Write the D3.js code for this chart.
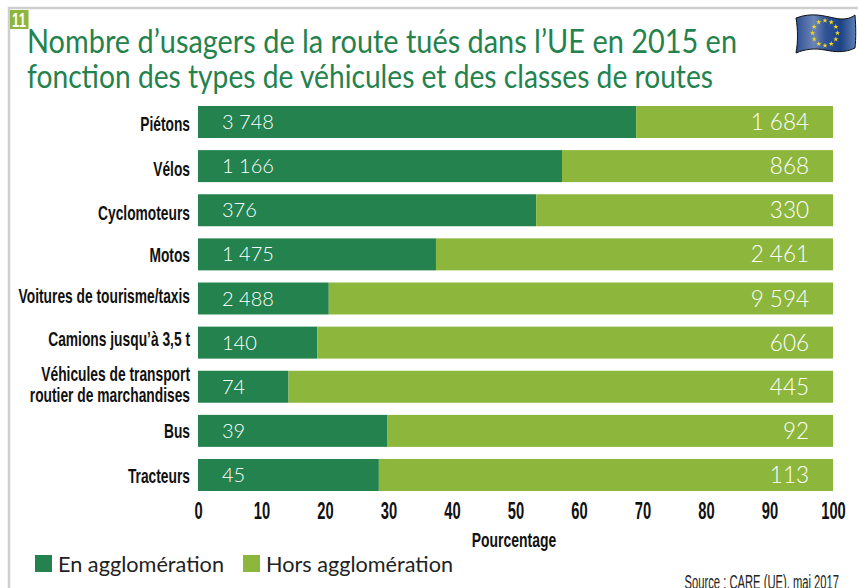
<!DOCTYPE html>
<html><head><meta charset="utf-8">
<script src="https://cdn.jsdelivr.net/npm/d3@7"></script>
<style>html,body{margin:0;padding:0;background:#fff}svg{display:block}</style></head>
<body><svg id="c" width="858" height="588"></svg>
<script>
const categories = ["Piétons","Vélos","Cyclomoteurs","Motos","Voitures de tourisme/taxis","Camions jusqu’à 3,5 t","Véhicules de transport\nroutier de marchandises","Bus","Tracteurs"];
const enAgglo = [3748,1166,376,1475,2488,140,74,39,45];
const horsAgglo = [1684,868,330,2461,9594,606,445,92,113];
const seriesNames = ["En agglomération","Hors agglomération"];
const seriesColors = ["#23824d","#8db63c"];
const xTicks = [0,10,20,30,40,50,60,70,80,90,100];
const titleLines = ["Nombre d’usagers de la route tués dans l’UE en 2015 en","fonction des types de véhicules et des classes de routes"];
const fmt = v => String(v).replace(/\B(?=(\d{3})+$)/g," ");

const svg = d3.select("#c");
const sans = "'Liberation Sans',sans-serif";
const geo = "Lato,'Open Sans',sans-serif";

// frame
svg.append("path").attr("d","M858,8H9V588").attr("fill","none").attr("stroke","#cfcfcf").attr("stroke-width",2.5);
svg.append("rect").attr("x",10).attr("y",10).attr("width",18.5).attr("height",19).attr("fill","#8db63c");
svg.append("text").attr("transform","translate(19,26.5) scale(.62,1)").attr("text-anchor","middle").attr("fill","#fff")
  .attr("font-family",sans).attr("font-weight",700).attr("font-size",21).text("11");

// title
svg.selectAll("text.t").data(titleLines).join("text").attr("class","t")
  .attr("x",27).attr("y",(d,i)=>52.5+i*35.5).attr("fill","#23824d")
  .attr("font-family",geo).attr("font-size",32.5)
  .attr("textLength",(d,i)=>[710,686][i]).attr("lengthAdjust","spacingAndGlyphs").text(d=>d);

// scales
const x = d3.scaleLinear().domain([0,100]).range([198,833]);
const y = d3.scaleBand().domain(categories).range([106,491]).paddingInner(0.275).paddingOuter(0);

const rows = categories.map((c,i)=>({cat:c,[seriesNames[0]]:enAgglo[i],[seriesNames[1]]:horsAgglo[i]}));
const stack = d3.stack().keys(seriesNames).offset(d3.stackOffsetExpand)(rows);

svg.selectAll("g.s").data(stack).join("g").attr("class","s").attr("fill",(d,i)=>seriesColors[i])
  .selectAll("rect").data(d=>d).join("rect")
  .attr("x",d=>x(d[0]*100)).attr("width",d=>x(d[1]*100)-x(d[0]*100))
  .attr("y",d=>y(d.data.cat)).attr("height",y.bandwidth());

// value labels
svg.selectAll("text.a").data(rows).join("text").attr("class","a")
  .attr("fill","#fff").attr("font-family",geo).attr("font-weight",300).attr("font-size",20)
  .attr("x",222).attr("y",d=>y(d.cat)+y.bandwidth()/2+7).text(d=>fmt(d[seriesNames[0]]));
svg.selectAll("text.b").data(rows).join("text").attr("class","b")
  .attr("fill","#fff").attr("font-family",geo).attr("font-weight",300).attr("font-size",22.5)
  .attr("x",809).attr("text-anchor","end").attr("y",d=>y(d.cat)+y.bandwidth()/2+8).text(d=>fmt(d[seriesNames[1]]));

// category labels (the reference's labels drift slightly from their bar centres)
const labelNudge = [9.5,9.5,9.5,7.5,4.5,3.5,0,7.5,7.5];
const catScale = .69;
svg.selectAll("text.c").data(categories).join("text").attr("class","c")
  .attr("text-anchor","end").attr("fill","#111").attr("font-family",sans).attr("font-weight",700).attr("font-size",20)
  .each(function(d,k){
    const parts = d.split("\n"), s = d3.select(this), mid = y(d)+y.bandwidth()/2;
    s.attr("transform",`translate(190,${mid+labelNudge[k]}) scale(${catScale},1)`);
    if(parts.length===1){ s.text(d); return; }
    parts.forEach((p,i)=>s.append("tspan").attr("x",0).attr("y",i===0?-6:15).text(p));
  });

// x axis
const axis = d3.axisBottom(x).tickValues(xTicks).tickSize(0).tickPadding(0).tickFormat(d3.format("d"));
const ax = svg.append("g").attr("transform","translate(0,502)").call(axis);
ax.select(".domain").remove();
ax.selectAll("text").attr("fill","#111").attr("font-family",sans).attr("font-weight",700).attr("font-size",23)
  .attr("dy","0.72em").attr("y",0).attr("transform","scale(.64,1)");
svg.append("text").attr("transform","translate(514,546.5) scale(.68,1)").attr("text-anchor","middle").attr("fill","#111")
  .attr("font-family",sans).attr("font-weight",700).attr("font-size",20.5).text("Pourcentage");

// legend
const legX = [35,243];
seriesNames.forEach((n,i)=>{
  svg.append("rect").attr("x",legX[i]).attr("y",555).attr("width",17).attr("height",17).attr("fill",seriesColors[i]);
  svg.append("text").attr("x",legX[i]+23).attr("y",572).attr("fill","#222").attr("font-family",geo)
    .attr("font-size",22).attr("textLength",[166,187][i]).attr("lengthAdjust","spacingAndGlyphs").text(n);
});
svg.append("text").attr("transform","translate(839,589) scale(.575,1)").attr("text-anchor","end").attr("fill","#222")
  .attr("font-family",sans).attr("font-size",19.5).text("Source : CARE (UE), mai 2017");

// flag
const defs = svg.append("defs");
const g = defs.append("linearGradient").attr("id","fl");
[["0","#2d4f92"],[".3","#6d86b8"],[".5","#2f5295"],[".75","#1d4385"],["1","#5f7fb5"]]
  .forEach(s=>g.append("stop").attr("offset",s[0]).attr("stop-color",s[1]));
svg.append("path").attr("d","M796,18C812,12 824,16 834,18C843,20 850,19 855,15C856,28 856,38 855,48C845,53 835,52 825,50C815,48 805,49 796,53C798,42 798,30 796,18Z")
  .attr("fill","url(#fl)").attr("stroke","#111").attr("stroke-width",1);
d3.range(12).forEach(i=>{
  const a = i/12*2*Math.PI;
  svg.append("path").attr("d",d3.symbol(d3.symbolStar,9)())
    .attr("transform",`translate(${825+12.5*Math.sin(a)},${33-12.5*Math.cos(a)})`).attr("fill","#f4d81c");
});
</script></body></html>
